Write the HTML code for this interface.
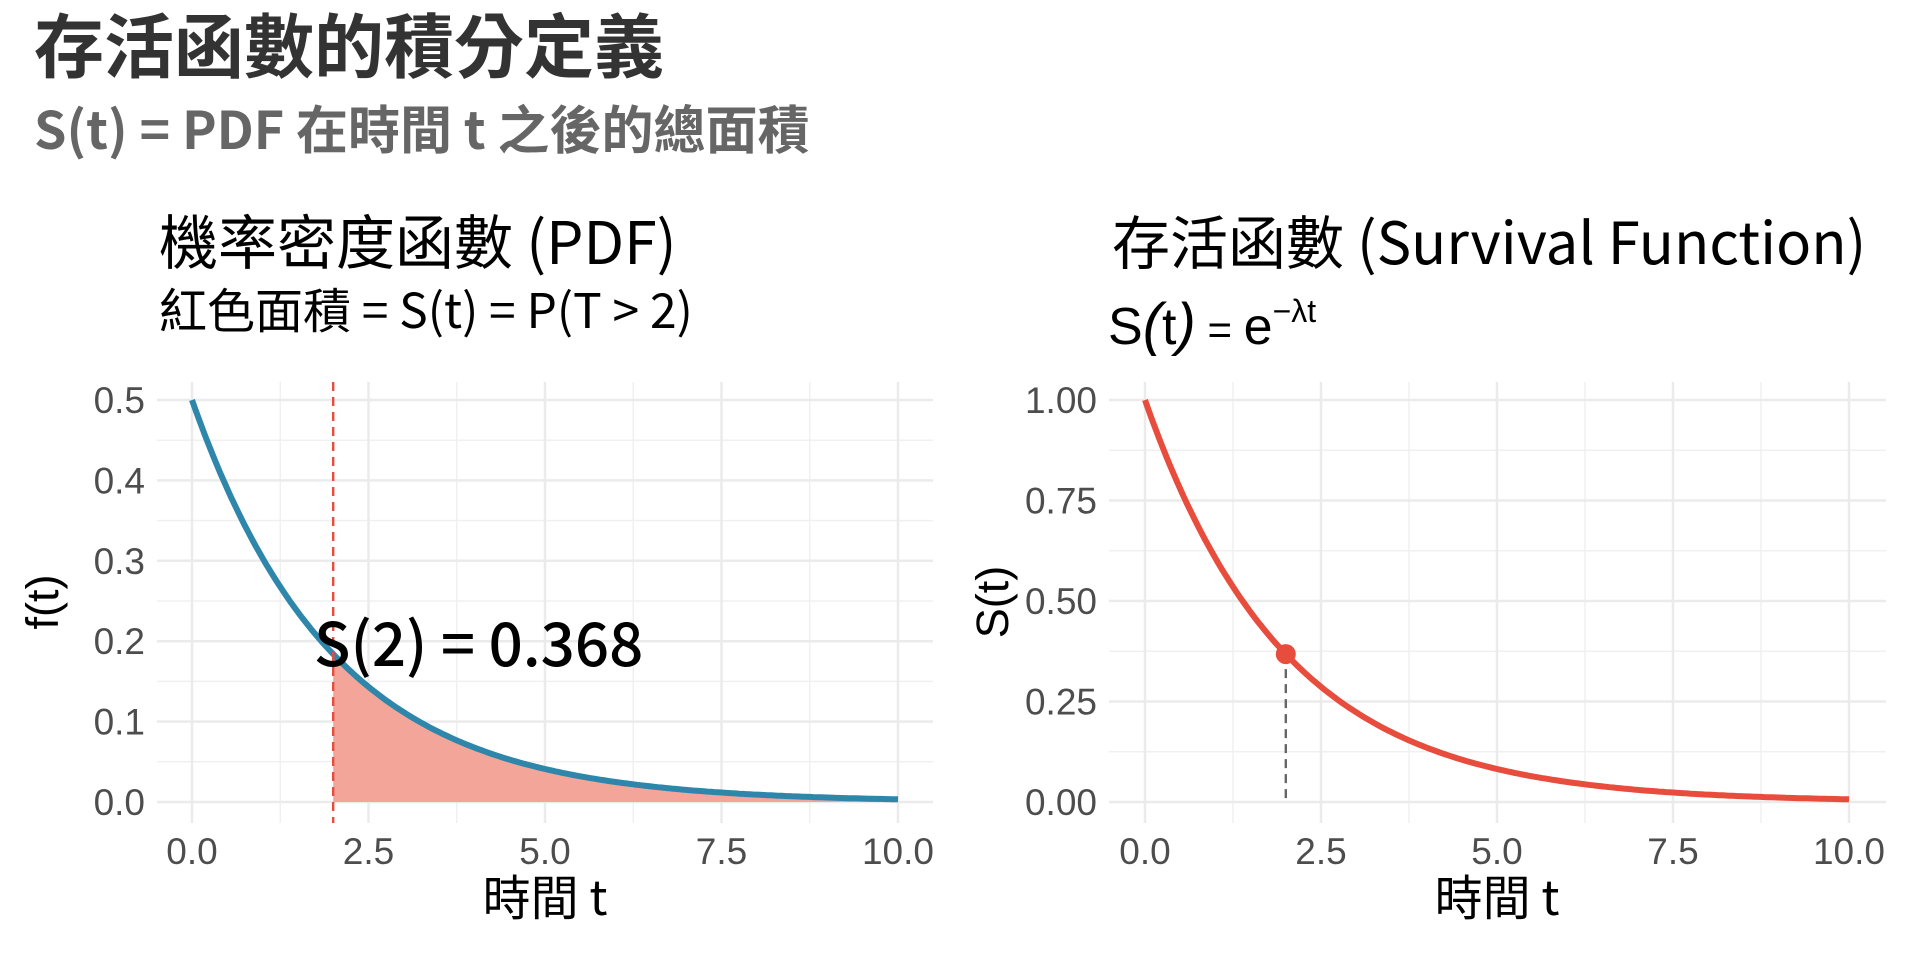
<!DOCTYPE html>
<html><head><meta charset="utf-8"><style>
body{margin:0;background:#fff;}
svg{display:block;font-family:"Liberation Sans","Noto Sans CJK TC",sans-serif;}
.cjk{font-family:"Noto Sans CJK TC","Liberation Sans",sans-serif;}
.tick{font-size:37px;fill:#4d4d4d;}
</style></head><body>
<svg id="s" width="1920" height="960" viewBox="0 0 1920 960" xmlns="http://www.w3.org/2000/svg">
<text x="34" y="72" class="cjk" font-size="70" font-weight="bold" fill="#333">存活函數的積分定義</text>
<text x="34" y="149" class="cjk" font-size="52" font-weight="bold" fill="#666">S(t) = PDF 在時間 t 之後的總面積</text>
<text x="159" y="264" class="cjk" font-size="59" fill="#000">機率密度函數 (PDF)</text>
<text x="159" y="328" class="cjk" font-size="48" fill="#000">紅色面積 = S(t) = P(T &gt; 2)</text>
<text x="1112" y="264" class="cjk" font-size="58" fill="#000">存活函數 (Survival Function)</text>
<text x="1108" y="344" font-size="52" fill="#000">S<tspan font-style="italic" font-size="58">(</tspan>t<tspan font-style="italic" font-size="58">)</tspan><tspan font-size="42"> = </tspan>e<tspan dy="-22" font-size="32">−λt</tspan></text>
<g id="g"></g>
</svg>
<script>
const NS="http://www.w3.org/2000/svg",g=document.getElementById('g');
function el(n,a,t){const e=document.createElementNS(NS,n);for(const k in a)e.setAttribute(k,a[k]);if(t!==undefined)e.textContent=t;g.appendChild(e);return e;}
function panel(x0,x1,y0,y1,X,Y,yticks,yfmt,ymax){
 for(let t=1.25;t<10;t+=2.5)el('line',{x1:X(t),x2:X(t),y1:y0,y2:y1,stroke:'#f0f0f0','stroke-width':1.5});
 const ys=ymax/(yticks.length-1);
 for(let i=0;i<yticks.length-1;i++){const v=ys*(i+0.5);el('line',{x1:x0,x2:x1,y1:Y(v),y2:Y(v),stroke:'#f0f0f0','stroke-width':1.5});}
 for(let t=0;t<=10;t+=2.5){el('line',{x1:X(t),x2:X(t),y1:y0,y2:y1,stroke:'#ebebeb','stroke-width':2.5});
  el('text',{x:X(t),y:864,'text-anchor':'middle',class:'tick'},t.toFixed(1));}
 yticks.forEach((v,i)=>{el('line',{x1:x0,x2:x1,y1:Y(v),y2:Y(v),stroke:'#ebebeb','stroke-width':2.5});
  el('text',{x:x0-12,y:Y(v)+13,'text-anchor':'end',class:'tick'},yfmt(v));});
}
const LX=t=>192+70.6*t, LY=v=>802-804*v;
panel(157,933,382,823,LX,LY,[0,0.1,0.2,0.3,0.4,0.5],v=>v.toFixed(1),0.5);
let area=`M${LX(2)},${LY(0)}`,cur='';
for(let t=2;t<=10.001;t+=0.05)area+=` L${LX(t).toFixed(1)},${LY(0.5*Math.exp(-0.5*t)).toFixed(1)}`;
area+=` L${LX(10)},${LY(0)} Z`;
el('path',{d:area,fill:'#f4a599'});
for(let t=0;t<=10.001;t+=0.05)cur+=(cur?' L':'M')+LX(t).toFixed(1)+','+LY(0.5*Math.exp(-0.5*t)).toFixed(1);
el('path',{d:cur,fill:'none',stroke:'#2e86ab','stroke-width':6});
el('line',{x1:LX(2),x2:LX(2),y1:382,y2:823,stroke:'#e74c3c','stroke-width':2.4,'stroke-dasharray':'9,6'});
el('text',{x:314,y:666,class:'cjk','font-size':60,'font-weight':500,fill:'#000'},'S(2) = 0.368');
el('text',{x:545,y:915,'text-anchor':'middle',class:'cjk','font-size':48,fill:'#000'},'時間 t');
el('text',{x:0,y:0,transform:'translate(58,602) rotate(-90)','text-anchor':'middle','font-size':45,fill:'#000'},'f(t)');
const RX=t=>1145+70.4*t, RY=v=>802-402*v;
panel(1109,1886,382,823,RX,RY,[0,0.25,0.5,0.75,1],v=>v.toFixed(2),1);
el('line',{x1:RX(2),x2:RX(2),y1:RY(Math.exp(-1)),y2:RY(0),stroke:'#666','stroke-width':2.4,'stroke-dasharray':'9,6'});
cur='';
for(let t=0;t<=10.001;t+=0.05)cur+=(cur?' L':'M')+RX(t).toFixed(1)+','+RY(Math.exp(-0.5*t)).toFixed(1);
el('path',{d:cur,fill:'none',stroke:'#e74c3c','stroke-width':6});
el('circle',{cx:RX(2),cy:RY(Math.exp(-1)),r:10,fill:'#e74c3c'});
el('text',{x:1497,y:915,'text-anchor':'middle',class:'cjk','font-size':48,fill:'#000'},'時間 t');
el('text',{x:0,y:0,transform:'translate(1008,602) rotate(-90)','text-anchor':'middle','font-size':45,fill:'#000'},'S(t)');
</script>
</body></html>
